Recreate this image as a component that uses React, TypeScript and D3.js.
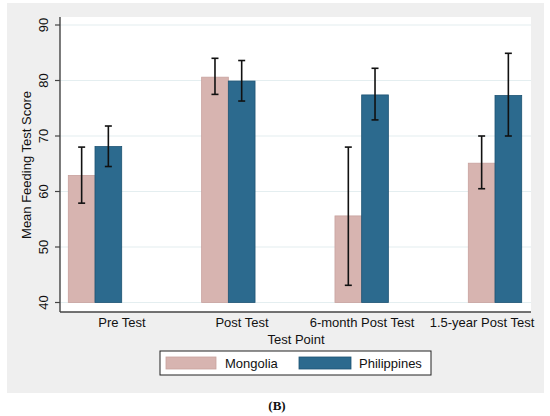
import React from 'react';
import * as d3 from 'd3';

// values
const testPoints = ['Pre Test', 'Post Test', '6-month Post Test', '1.5-year Post Test'];
const countries = ['Mongolia', 'Philippines'];
const mongoliaMean = [62.9, 80.6, 55.6, 65.1];
const mongoliaLow = [57.9, 77.5, 43.1, 60.5];
const mongoliaHigh = [68.0, 84.0, 68.0, 70.0];
const philippinesMean = [68.1, 79.9, 77.4, 77.3];
const philippinesLow = [64.5, 76.3, 72.9, 70.0];
const philippinesHigh = [71.8, 83.6, 82.2, 84.9];
const yTicks = [40, 50, 60, 70, 80, 90];

const colors: Record<string, { fill: string; stroke: string }> = {
  Mongolia: { fill: '#d7b4b0', stroke: '#c8a29e' },
  Philippines: { fill: '#2c6a8e', stroke: '#1d5373' },
};

const W = 550;
const H = 416;
const plot = { left: 60, right: 531, top: 17, bottom: 312 };
const font = 'Liberation Sans, Arial, Helvetica, sans-serif';

export default function App() {
  const y = d3.scaleLinear().domain([40, 90]).range([302.5, 25]);
  const yBottom = y.invert(plot.bottom);
  const yTop = y.invert(plot.top);
  y.domain([yBottom, yTop]).range([plot.bottom, plot.top]);

  const x = d3.scalePoint<string>().domain(testPoints).range([plot.left + 35, plot.right - 36]);
  const labelX = d3.scalePoint<string>().domain(testPoints).range([122, 482]);
  const sub = d3.scaleBand<string>().domain(countries).range([-26.7, 26.7]).padding(0);

  const rows = testPoints.flatMap((t, i) => [
    { t, c: 'Mongolia', mean: mongoliaMean[i], lo: mongoliaLow[i], hi: mongoliaHigh[i] },
    { t, c: 'Philippines', mean: philippinesMean[i], lo: philippinesLow[i], hi: philippinesHigh[i] },
  ]);

  const capHalf = 3.5;

  return (
    <svg
      width={W}
      height={H}
      style={{ position: 'fixed', left: 0, top: 0, background: '#ffffff' }}
      fontFamily={font}
    >
      <rect x={7} y={3} width={537} height={390} fill="#efefef" />
      <rect x={plot.left} y={plot.top} width={plot.right - plot.left} height={plot.bottom - plot.top} fill="#ffffff" />

      {/* gridlines */}
      {yTicks.map((v) => (
        <line key={'g' + v} x1={plot.left} x2={plot.right} y1={y(v)} y2={y(v)} stroke="#e4eef0" strokeWidth={1.2} />
      ))}

      {/* bars */}
      {rows.map((r) => (
        <rect
          key={'b' + r.t + r.c}
          x={x(r.t)! + sub(r.c)!}
          y={y(r.mean)}
          width={sub.bandwidth()}
          height={y(40) - y(r.mean)}
          fill={colors[r.c].fill}
          stroke={colors[r.c].stroke}
          strokeWidth={0.8}
        />
      ))}

      {/* error bars */}
      {rows.map((r) => {
        const cx = x(r.t)! + sub(r.c)! + sub.bandwidth() / 2;
        return (
          <g key={'e' + r.t + r.c} stroke="#111111" strokeWidth={1.6}>
            <line x1={cx} x2={cx} y1={y(r.lo)} y2={y(r.hi)} />
            <line x1={cx - capHalf} x2={cx + capHalf} y1={y(r.lo)} y2={y(r.lo)} />
            <line x1={cx - capHalf} x2={cx + capHalf} y1={y(r.hi)} y2={y(r.hi)} />
          </g>
        );
      })}

      {/* axes */}
      <line x1={plot.left} x2={plot.left} y1={plot.top} y2={plot.bottom} stroke="#444444" strokeWidth={1.4} />
      <line x1={plot.left} x2={plot.right} y1={plot.bottom} y2={plot.bottom} stroke="#444444" strokeWidth={1.4} />
      {yTicks.map((v) => (
        <g key={'t' + v}>
          <line x1={plot.left - 5} x2={plot.left} y1={y(v)} y2={y(v)} stroke="#444444" strokeWidth={1.2} />
          <text
            transform={`translate(${plot.left - 12},${y(v)}) rotate(-90)`}
            textAnchor="middle"
            fontSize={13}
            fill="#111111"
          >
            {v}
          </text>
        </g>
      ))}
      {testPoints.map((t) => (
        <text key={'l' + t} x={labelX(t)} y={327} textAnchor="middle" fontSize={13} fill="#111111">
          {t}
        </text>
      ))}
      <text x={296} y={344} textAnchor="middle" fontSize={13} fill="#111111">
        Test Point
      </text>
      <text
        transform={`translate(31,165) rotate(-90)`}
        textAnchor="middle"
        fontSize={13}
        fill="#111111"
      >
        Mean Feeding Test Score
      </text>

      {/* legend */}
      <rect x={160} y={351} width={271} height={24} fill="#ffffff" stroke="#222222" strokeWidth={1} />
      <rect x={166} y={357} width={50} height={12} fill={colors.Mongolia.fill} stroke={colors.Mongolia.stroke} strokeWidth={0.8} />
      <text x={225} y={368} fontSize={13} fill="#111111">
        Mongolia
      </text>
      <rect x={299} y={357} width={52} height={12} fill={colors.Philippines.fill} stroke={colors.Philippines.stroke} strokeWidth={0.8} />
      <text x={359} y={368} fontSize={13} fill="#111111">
        Philippines
      </text>

      <text x={277} y={410} textAnchor="middle" fontSize={13} fontWeight="bold" fontFamily="Liberation Serif, Times New Roman, serif" fill="#111111">
        (B)
      </text>
    </svg>
  );
}
